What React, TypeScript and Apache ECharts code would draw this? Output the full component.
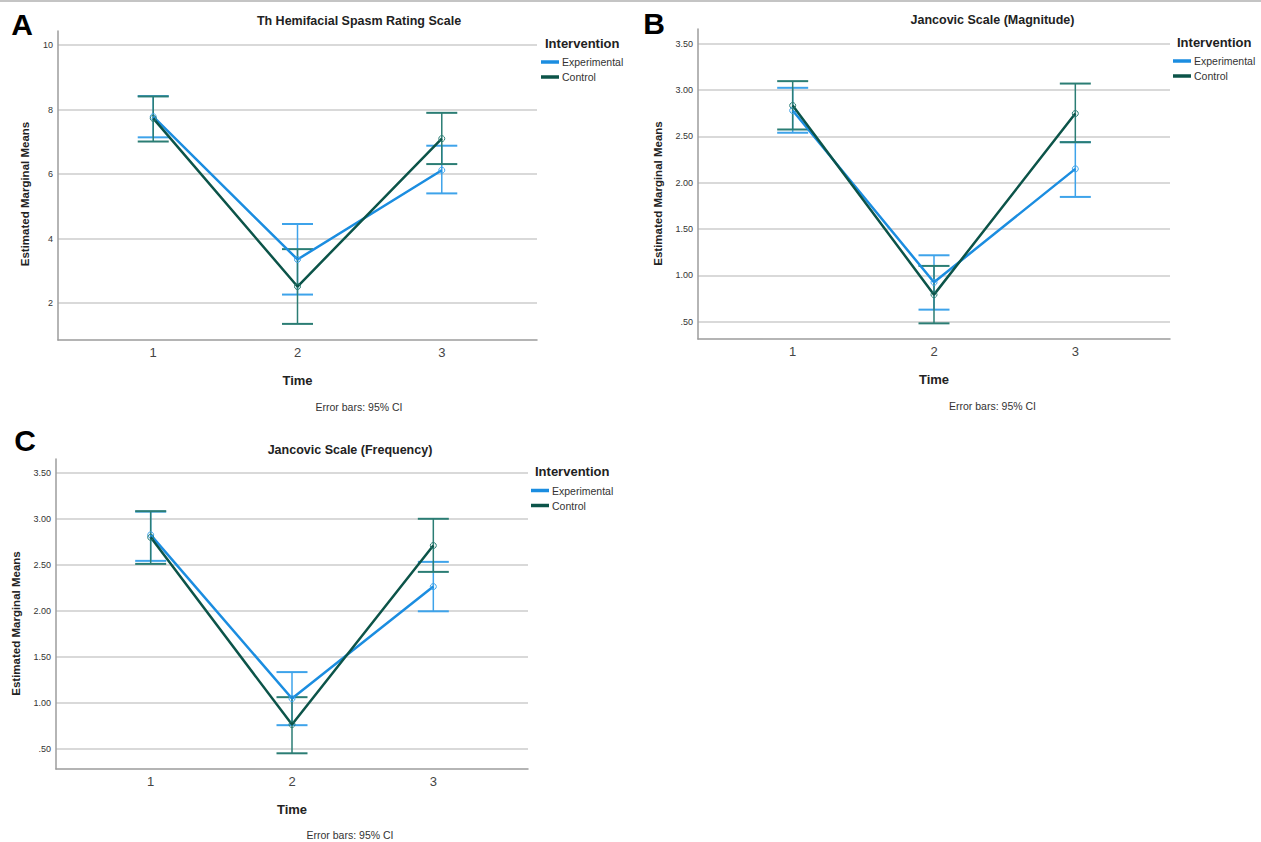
import React, { useEffect, useRef } from "react";
import * as echarts from "echarts";

// ---------- data ----------
const timePoints = [1, 2, 3];
const groupNames = ["Experimental", "Control"];

// Panel A: Hemifacial Spasm Rating Scale
const hfsExpMean = [7.78, 3.35, 6.12];
const hfsExpLow = [7.14, 2.26, 5.4];
const hfsExpHigh = [8.42, 4.45, 6.88];
const hfsCtlMean = [7.73, 2.51, 7.1];
const hfsCtlLow = [7.01, 1.35, 6.31];
const hfsCtlHigh = [8.41, 3.67, 7.9];
const hfsTicks = [2, 4, 6, 8, 10];

// Panel B: Jancovic Scale (Magnitude)
const magExpMean = [2.78, 0.925, 2.15];
const magExpLow = [2.54, 0.63, 1.847];
const magExpHigh = [3.025, 1.217, 2.438];
const magCtlMean = [2.834, 0.792, 2.747];
const magCtlLow = [2.575, 0.482, 2.438];
const magCtlHigh = [3.097, 1.102, 3.071];
const magTicks = [0.5, 1, 1.5, 2, 2.5, 3, 3.5];

// Panel C: Jancovic Scale (Frequency)
const freqExpMean = [2.827, 1.045, 2.264];
const freqExpLow = [2.544, 0.755, 1.995];
const freqExpHigh = [3.08, 1.333, 2.533];
const freqCtlMean = [2.8, 0.762, 2.711];
const freqCtlLow = [2.511, 0.449, 2.424];
const freqCtlHigh = [3.085, 1.06, 3.002];
const freqTicks = [0.5, 1, 1.5, 2, 2.5, 3, 3.5];

// ---------- styling / layout ----------
const FONT = 'Arial, "Liberation Sans", Helvetica, sans-serif';
const EXP_LINE = "#1b8de0";
const EXP_BAR = "#3ea3ea";
const CTL_LINE = "#0c5449";
const CTL_BAR = "#2b7d74";

const panels = [
  {
    letter: "A",
    title: "Th Hemifacial Spasm Rating Scale",
    grid: { left: 58, top: 31, width: 479, height: 309 },
    xRange: [0.34, 3.66],
    yRange: [0.85, 10.44],
    ticks: hfsTicks,
    fmt: (v: number) => String(Math.round(v)),
    exp: [hfsExpMean, hfsExpLow, hfsExpHigh],
    ctl: [hfsCtlMean, hfsCtlLow, hfsCtlHigh],
    letterPos: [22, 24],
    titlePos: [359, 21],
    yNamePos: [25, 194],
    nameGapX: 33.5,
    errPos: [359, 407],
    legTitlePos: [545, 43],
    legendPos: [541, 56],
  },
  {
    letter: "B",
    title: "Jancovic Scale (Magnitude)",
    grid: { left: 698, top: 29, width: 472, height: 310 },
    xRange: [0.33, 3.67],
    yRange: [0.313, 3.66],
    ticks: magTicks,
    fmt: (v: number) => (v < 1 ? v.toFixed(2).replace(/^0/, "") : v.toFixed(2)),
    exp: [magExpMean, magExpLow, magExpHigh],
    ctl: [magCtlMean, magCtlLow, magCtlHigh],
    letterPos: [654, 23.5],
    titlePos: [992.5, 20],
    yNamePos: [658, 193.5],
    nameGapX: 33.5,
    errPos: [992.5, 406],
    legTitlePos: [1177, 42],
    legendPos: [1173, 55],
  },
  {
    letter: "C",
    title: "Jancovic Scale (Frequency)",
    grid: { left: 56, top: 459, width: 472, height: 310 },
    xRange: [0.33, 3.67],
    yRange: [0.278, 3.653],
    ticks: freqTicks,
    fmt: (v: number) => (v < 1 ? v.toFixed(2).replace(/^0/, "") : v.toFixed(2)),
    exp: [freqExpMean, freqExpLow, freqExpHigh],
    ctl: [freqCtlMean, freqCtlLow, freqCtlHigh],
    letterPos: [25, 440],
    titlePos: [350, 449.5],
    yNamePos: [15.7, 623.5],
    nameGapX: 33.5,
    errPos: [350, 835],
    legTitlePos: [535, 471],
    legendPos: [531, 484.5],
  },
];

function errorBarRender(color: string) {
  return (params: any, api: any) => {
    const x = api.value(0);
    const lo = api.coord([x, api.value(1)]);
    const hi = api.coord([x, api.value(2)]);
    const hw = 15.5;
    return {
      type: "group",
      children: [
        { type: "line", shape: { x1: hi[0], y1: hi[1], x2: lo[0], y2: lo[1] }, style: { stroke: color, lineWidth: 1.5 } },
        { type: "line", shape: { x1: hi[0] - hw, y1: hi[1], x2: hi[0] + hw, y2: hi[1] }, style: { stroke: color, lineWidth: 2 } },
        { type: "line", shape: { x1: lo[0] - hw, y1: lo[1], x2: lo[0] + hw, y2: lo[1] }, style: { stroke: color, lineWidth: 2 } },
      ],
    };
  };
}

function buildOption() {
  const grid: any[] = [];
  const xAxis: any[] = [];
  const yAxis: any[] = [];
  const series: any[] = [];
  const legend: any[] = [];
  const graphic: any[] = [
    { type: "rect", shape: { x: 0, y: 0, width: 1261, height: 2 }, style: { fill: "#c4c4c4" } },
  ];

  panels.forEach((p, i) => {
    grid.push({ ...p.grid, containLabel: false });
    xAxis.push({
      type: "value",
      gridIndex: i,
      min: p.xRange[0],
      max: p.xRange[1],
      name: "Time",
      nameLocation: "middle",
      nameGap: p.nameGapX,
      nameTextStyle: { fontFamily: FONT, fontSize: 13, fontWeight: "bold", color: "#222" },
      axisLine: { show: true, onZero: false, lineStyle: { color: "#9c9c9c", width: 1.5 } },
      axisTick: { show: false, customValues: timePoints },
      axisLabel: {
        customValues: timePoints,
        fontFamily: FONT,
        fontSize: 13,
        color: "#444",
        margin: 6,
      },
      splitLine: { show: false },
    });
    yAxis.push({
      type: "value",
      gridIndex: i,
      min: p.yRange[0],
      max: p.yRange[1],
      axisLine: { show: true, onZero: false, lineStyle: { color: "#9c9c9c", width: 1.5 } },
      axisTick: { show: false, customValues: p.ticks },
      axisLabel: {
        customValues: p.ticks,
        formatter: p.fmt,
        fontFamily: FONT,
        fontSize: 9,
        color: "#333",
        margin: 5,
      },
      splitLine: { show: true, lineStyle: { color: "#cdcdcd", width: 1.5 } },
    });

    const [em, el, eh] = p.exp;
    const [cm, cl, ch] = p.ctl;
    series.push({
      name: groupNames[0],
      type: "line",
      xAxisIndex: i,
      yAxisIndex: i,
      data: timePoints.map((t, k) => [t, em[k]]),
      symbol: "circle",
      symbolSize: 6,
      lineStyle: { color: EXP_LINE, width: 2.5 },
      itemStyle: { color: "rgba(255,255,255,0)", borderColor: EXP_BAR, borderWidth: 1 },
      z: 3,
    });
    series.push({
      name: groupNames[1],
      type: "line",
      xAxisIndex: i,
      yAxisIndex: i,
      data: timePoints.map((t, k) => [t, cm[k]]),
      symbol: "circle",
      symbolSize: 6,
      lineStyle: { color: CTL_LINE, width: 2.5 },
      itemStyle: { color: "rgba(255,255,255,0)", borderColor: CTL_BAR, borderWidth: 1 },
      z: 4,
    });
    series.push({
      name: groupNames[0] + " CI",
      type: "custom",
      xAxisIndex: i,
      yAxisIndex: i,
      data: timePoints.map((t, k) => [t, el[k], eh[k]]),
      encode: { x: 0, y: [1, 2] },
      renderItem: errorBarRender(EXP_BAR),
      z: 2,
    });
    series.push({
      name: groupNames[1] + " CI",
      type: "custom",
      xAxisIndex: i,
      yAxisIndex: i,
      data: timePoints.map((t, k) => [t, cl[k], ch[k]]),
      encode: { x: 0, y: [1, 2] },
      renderItem: errorBarRender(CTL_BAR),
      z: 2,
    });

    legend.push({
      data: groupNames.map((n) => ({
        name: n,
        itemStyle: { color: n === "Control" ? CTL_LINE : EXP_LINE, borderWidth: 0 },
      })),
      orient: "vertical",
      left: p.legendPos[0],
      top: p.legendPos[1],
      icon: "rect",
      itemWidth: 18,
      itemHeight: 3.5,
      itemGap: 3,
      padding: 0,
      selectedMode: false,
      textStyle: { fontFamily: FONT, fontSize: 10.5, color: "#333", lineHeight: 12, padding: [0, 0, 0, -2] },
    });

    graphic.push(
      {
        type: "text",
        x: p.letterPos[0],
        y: p.letterPos[1],
        style: { text: p.letter, fontFamily: FONT, fontSize: 30, fontWeight: "bold", fill: "#000", align: "center", verticalAlign: "middle" },
      },
      {
        type: "text",
        x: p.titlePos[0],
        y: p.titlePos[1],
        style: { text: p.title, fontFamily: FONT, fontSize: 12.5, fontWeight: "bold", fill: "#222", align: "center", verticalAlign: "middle" },
      },
      {
        type: "text",
        x: p.yNamePos[0],
        y: p.yNamePos[1],
        rotation: Math.PI / 2,
        style: { text: "Estimated Marginal Means", fontFamily: FONT, fontSize: 11.5, fontWeight: "bold", fill: "#222", align: "center", verticalAlign: "middle" },
      },
      {
        type: "text",
        x: p.errPos[0],
        y: p.errPos[1],
        style: { text: "Error bars: 95% CI", fontFamily: FONT, fontSize: 10.5, fill: "#333", align: "center", verticalAlign: "middle" },
      },
      {
        type: "text",
        x: p.legTitlePos[0],
        y: p.legTitlePos[1],
        style: { text: "Intervention", fontFamily: FONT, fontSize: 13, fontWeight: "bold", fill: "#222", align: "left", verticalAlign: "middle" },
      }
    );
  });

  return {
    animation: false,
    backgroundColor: "#ffffff",
    textStyle: { fontFamily: FONT },
    grid,
    xAxis,
    yAxis,
    series,
    legend,
    graphic,
  };
}

export default function App() {
  const ref = useRef<HTMLDivElement>(null);
  useEffect(() => {
    if (!ref.current) return;
    const chart = echarts.init(ref.current, undefined, { renderer: "svg" });
    chart.setOption(buildOption() as any);
    return () => chart.dispose();
  }, []);
  return (
    <div
      ref={ref}
      style={{ position: "absolute", left: 0, top: 0, width: 1261, height: 842, background: "#fff" }}
    />
  );
}
